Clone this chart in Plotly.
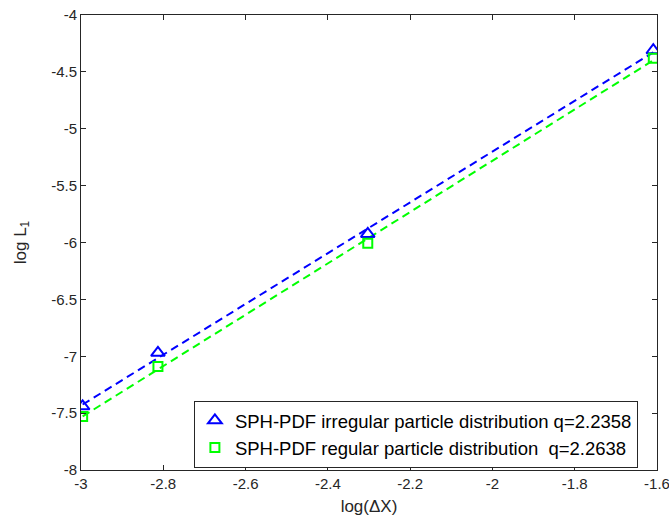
import numpy as np
import plotly.graph_objects as go

# data
log_dx = [-2.996, -2.813, -2.303, -1.609]
irregular = [-7.44, -6.97, -5.925, -4.31]
regular = [-7.53, -7.09, -6.007, -4.381]
names = ["SPH-PDF irregular particle distribution q=2.2358",
         "SPH-PDF regular particle distribution  q=2.2638"]
x_ticks = [-3, -2.8, -2.6, -2.4, -2.2, -2, -1.8, -1.6]
y_ticks = [-8, -7.5, -7, -6.5, -6, -5.5, -5, -4.5, -4]

BLUE = "#0000ff"
GREEN = "#00ff00"

fig = go.Figure()
xs = np.array(log_dx)
for ys, col in [(irregular, BLUE), (regular, GREEN)]:
    p = np.polyfit(xs, ys, 1)
    fx = np.array([xs.min(), xs.max()])
    fig.add_trace(go.Scatter(x=fx, y=np.polyval(p, fx), mode="lines",
                             line=dict(color=col, width=2, dash="8px,5px"),
                             showlegend=False, hoverinfo="skip"))

fig.add_trace(go.Scatter(x=log_dx, y=irregular, mode="markers", name=names[0],
                         legendgroup="a",
                         marker=dict(symbol="triangle-up-open", size=12, color=BLUE,
                                     line=dict(width=2, color=BLUE))))
fig.add_trace(go.Scatter(x=log_dx, y=regular, mode="markers", name=names[1],
                         legendgroup="b",
                         marker=dict(symbol="square-open", size=9, color=GREEN,
                                     line=dict(width=2, color=GREEN))))

axis_common = dict(showgrid=False, zeroline=False, showline=True, linecolor="#262626",
                   linewidth=1, mirror="allticks", ticks="inside", ticklen=5,
                   tickcolor="#262626", automargin=False, ticklabeloverflow="allow",
                   tickfont=dict(size=15, color="#262626"))
fig.update_xaxes(range=[-3, -1.6], tickvals=x_ticks,
                 ticktext=[f"{v:g}" for v in x_ticks],
                 title=dict(text="log(ΔX)", font=dict(size=17, color="#262626"), standoff=9),
                 **axis_common)
fig.update_yaxes(range=[-8, -4], tickvals=y_ticks,
                 ticktext=[f"{v:g}" for v in y_ticks],
                 title=dict(text="log L<sub>1</sub>", font=dict(size=17, color="#262626"), standoff=20),
                 **axis_common)

fig.update_layout(
    template="none",
    width=669, height=523,
    margin=dict(l=81, r=12, t=15, b=53),
    plot_bgcolor="white", paper_bgcolor="white",
    font=dict(family="Liberation Sans, Arial, sans-serif", color="#262626"),
    legend=dict(x=0.196, y=0.152, xanchor="left", yanchor="top",
                bgcolor="white", bordercolor="#262626", borderwidth=1,
                font=dict(size=18.5, color="black"), tracegroupgap=0),
    showlegend=True,
)

# remove the default 8px page margin so the figure fills the window exactly
fig.write_html("out.html", config={"displayModeBar": False},
               post_script="document.body.style.margin='0';document.body.style.overflow='hidden';")
